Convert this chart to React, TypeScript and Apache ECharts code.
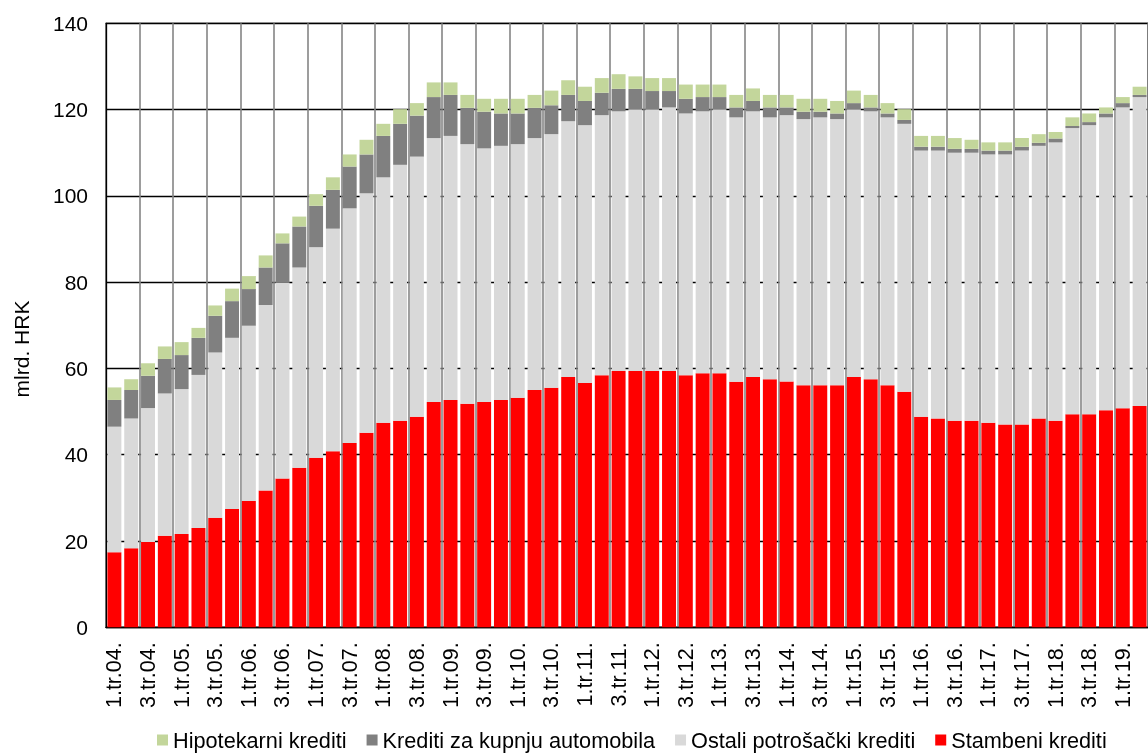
import React, { useEffect, useRef } from "react";
import * as echarts from "echarts";

const categories = [
  "1.tr.04.", "2.tr.04.", "3.tr.04.", "4.tr.04.",
  "1.tr.05.", "2.tr.05.", "3.tr.05.", "4.tr.05.",
  "1.tr.06.", "2.tr.06.", "3.tr.06.", "4.tr.06.",
  "1.tr.07.", "2.tr.07.", "3.tr.07.", "4.tr.07.",
  "1.tr.08.", "2.tr.08.", "3.tr.08.", "4.tr.08.",
  "1.tr.09.", "2.tr.09.", "3.tr.09.", "4.tr.09.",
  "1.tr.10.", "2.tr.10.", "3.tr.10.", "4.tr.10.",
  "1.tr.11.", "2.tr.11.", "3.tr.11.", "4.tr.11.",
  "1.tr.12.", "2.tr.12.", "3.tr.12.", "4.tr.12.",
  "1.tr.13.", "2.tr.13.", "3.tr.13.", "4.tr.13.",
  "1.tr.14.", "2.tr.14.", "3.tr.14.", "4.tr.14.",
  "1.tr.15.", "2.tr.15.", "3.tr.15.", "4.tr.15.",
  "1.tr.16.", "2.tr.16.", "3.tr.16.", "4.tr.16.",
  "1.tr.17.", "2.tr.17.", "3.tr.17.", "4.tr.17.",
  "1.tr.18.", "2.tr.18.", "3.tr.18.", "4.tr.18.",
  "1.tr.19.", "2.tr.19.",
];

const stambeni = [
  17.4, 18.3, 19.8, 21.2, 21.6, 23.0, 25.4, 27.4, 29.3, 31.7,
  34.5, 37.0, 39.3, 40.8, 42.7, 45.1, 47.4, 47.9, 48.8, 52.2,
  52.7, 51.8, 52.2, 52.7, 53.2, 55.0, 55.5, 58.0, 56.6, 58.4,
  59.4, 59.4, 59.4, 59.4, 58.4, 58.9, 58.9, 56.9, 58.0, 57.5,
  57.0, 56.1, 56.1, 56.1, 58.0, 57.5, 56.1, 54.6, 48.8, 48.4,
  47.9, 47.9, 47.4, 47.0, 47.0, 48.4, 47.9, 49.4, 49.4, 50.3,
  50.8, 51.3,
];

const ostali = [
  29.1, 30.1, 31.0, 33.0, 33.6, 35.5, 38.3, 39.7, 40.6, 43.0,
  45.4, 46.4, 48.8, 51.6, 54.4, 55.5, 56.9, 59.3, 60.3, 61.2,
  61.2, 60.2, 58.8, 58.9, 58.8, 58.4, 58.8, 59.3, 59.8, 60.3,
  60.2, 60.7, 60.7, 61.1, 60.7, 60.7, 61.2, 61.3, 61.6, 60.7,
  61.7, 61.7, 62.1, 61.7, 62.1, 62.1, 62.1, 62.1, 61.7, 62.1,
  62.1, 62.1, 62.2, 62.6, 63.5, 63.2, 64.5, 66.3, 67.0, 67.9,
  69.7, 71.6,
];

const automobili = [
  6.2, 6.6, 7.5, 8.0, 7.9, 8.6, 8.5, 8.5, 8.5, 8.7,
  9.1, 9.5, 9.6, 9.0, 9.7, 9.0, 9.6, 9.5, 9.5, 9.5,
  9.5, 8.4, 8.5, 7.5, 7.1, 7.0, 6.7, 6.1, 5.6, 5.2,
  5.2, 4.7, 4.2, 3.8, 3.4, 3.3, 2.8, 2.3, 2.4, 2.3,
  1.8, 1.7, 1.3, 1.3, 1.4, 0.9, 0.9, 0.9, 0.9, 0.9,
  0.9, 0.9, 0.9, 0.9, 0.9, 0.7, 0.9, 0.5, 0.7, 0.9,
  1.0, 0.5,
];

const hipotekarni = [
  2.9, 2.5, 2.9, 2.9, 3.0, 2.3, 2.4, 2.9, 3.0, 2.8,
  2.3, 2.3, 2.7, 2.9, 2.8, 3.4, 2.8, 3.4, 2.9, 3.4,
  2.9, 3.0, 3.0, 3.4, 3.4, 3.0, 3.4, 3.4, 3.3, 3.4,
  3.4, 2.9, 3.0, 3.0, 3.3, 2.9, 2.9, 2.9, 2.9, 2.9,
  2.9, 3.0, 3.0, 2.9, 2.9, 2.9, 2.4, 2.5, 2.5, 2.5,
  2.5, 2.1, 1.9, 1.9, 2.0, 2.0, 1.5, 2.0, 2.0, 1.4,
  1.4, 1.9,
];

const seriesNames = [
  "Hipotekarni krediti",
  "Krediti za kupnju automobila",
  "Ostali potrošački krediti",
  "Stambeni krediti",
];
const yAxisTitle = "mlrd. HRK";

const FONT = "'Liberation Sans', Arial, sans-serif";

export default function App() {
  const ref = useRef<HTMLDivElement>(null);

  useEffect(() => {
    if (!ref.current) return;
    const chart = echarts.init(ref.current, undefined, { renderer: "svg" });
    const bar = (name: string, data: number[], color: string) => ({
      name,
      type: "bar",
      stack: "total",
      data,
      barCategoryGap: "17%",
      itemStyle: { color },
      emphasis: { disabled: true },
    });
    chart.setOption({
      animation: false,
      grid: {
        left: 106,
        top: 23.3,
        width: 1050,
        height: 604,
        show: true,
        borderColor: "#000",
        borderWidth: 1.3,
        backgroundColor: "transparent",
      },
      xAxis: {
        type: "category",
        data: categories,
        boundaryGap: true,
        axisLine: { show: true, lineStyle: { color: "#000", width: 1.3 } },
        axisTick: { show: false },
        axisLabel: {
          interval: 1,
          rotate: 90,
          margin: 15,
          fontSize: 21.5,
          color: "#000",
          fontFamily: FONT,
        },
        splitLine: {
          show: true,
          interval: 1,
          lineStyle: { color: "#858585", width: 1.6 },
        },
      },
      yAxis: {
        type: "value",
        min: 0,
        max: 140,
        interval: 20,
        axisLine: { show: true, lineStyle: { color: "#000", width: 1.3 } },
        axisTick: { show: false },
        axisLabel: { fontSize: 21, color: "#000", margin: 18, fontFamily: FONT },
        splitLine: { show: true, lineStyle: { color: "#000", width: 1.3 } },
      },
      legend: {
        data: seriesNames,
        left: 152,
        top: 724,
        itemWidth: 11,
        itemHeight: 11,
        itemGap: 20,
        icon: "rect",
        textStyle: { fontSize: 21.7, color: "#000", fontFamily: FONT },
      },
      graphic: [
        {
          type: "text",
          x: 21,
          y: 349,
          rotation: Math.PI / 2,
          style: {
            text: yAxisTitle,
            font: `21px ${FONT}`,
            fill: "#000",
            textAlign: "center",
            textVerticalAlign: "middle",
          },
        },
      ],
      series: [
        bar(seriesNames[3], stambeni, "#ff0000"),
        bar(seriesNames[2], ostali, "#d9d9d9"),
        bar(seriesNames[1], automobili, "#808080"),
        bar(seriesNames[0], hipotekarni, "#c3d69b"),
      ],
    });
    return () => chart.dispose();
  }, []);

  return (
    <div
      ref={ref}
      style={{ position: "fixed", left: 0, top: 0, width: 1148, height: 753 }}
    />
  );
}
